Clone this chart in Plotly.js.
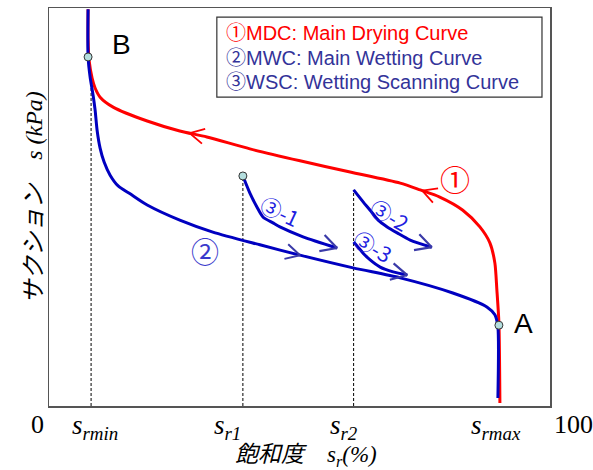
<!DOCTYPE html>
<html><head><meta charset="utf-8">
<script src="https://cdn.plot.ly/plotly-3.0.1.min.js"></script>
<style>body{margin:0;background:#fff}</style>
</head><body><div id="chart" style="width:593px;height:470px"></div>
<script>
// ---- data (x: degree of saturation %, y: relative suction 0-100) ----
const mdcX = [90.0, 89.8, 89.4, 89.0, 88.0, 86.0, 82.6, 78.0, 74.1, 70.1, 60.1, 50.1, 40.1, 31.5, 26.1, 19.6, 12.8, 10.2, 9.2, 8.6, 8.0, 7.8, 7.8];
const mdcY = [0.75, 20.9, 29.1, 35.9, 41.0, 45.0, 49.2, 52.5, 54.3, 56.0, 58.8, 61.6, 64.6, 67.6, 69.1, 71.6, 75.1, 77.6, 79.9, 82.4, 86.9, 92.0, 99.7];

const mwcX = [7.8, 7.8, 8.2, 8.8, 9.2, 9.6, 10.2, 11.0, 12.2, 13.8, 16.2, 19.6, 26.1, 32.7, 42.1, 50.1, 60.7, 70.1, 80.6, 87.4, 89.0, 89.6, 89.6];
const mwcY = [99.7, 87.7, 82.7, 78.1, 74.4, 69.3, 64.8, 61.3, 58.0, 55.3, 53.3, 50.5, 46.7, 43.7, 40.5, 37.9, 34.7, 32.2, 28.4, 24.9, 22.9, 19.8, 2.0];

const wsc1X = [38.7, 40.1, 41.5, 42.7, 44.7, 46.1, 50.7, 57.5];
const wsc1Y = [57.8, 53.5, 50.0, 47.5, 46.0, 45.0, 42.5, 39.7];
const wsc2X = [60.8, 62.7, 64.1, 65.7, 67.5, 69.5, 72.1, 76.4];
const wsc2Y = [54.3, 51.3, 49.2, 46.7, 45.0, 43.5, 41.7, 39.9];
const wsc3X = [60.8, 61.7, 62.7, 64.1, 66.1, 68.7, 71.5];
const wsc3Y = [41.2, 39.9, 38.4, 36.7, 34.9, 33.7, 32.9];

// characteristic saturations
const srNames = ['rmin', 'r1', 'r2', 'rmax'];
const srValues = [8.4, 38.7, 60.8, 89.8];
// dashed reference lines: x and upper end
const refX = [8.4, 38.7, 60.8];
const refTop = [82.0, 57.8, 54.3];
// marked points
const ptX = [7.8, 38.7, 89.8];
const ptY = [87.7, 57.8, 20.3];
const ptNames = ['B', '', 'A'];
// direction arrows along curves (x position of tip)
const mdcArrowAt = [28.1, 74.5];
const mwcArrowAt = [50.1];
const axisEnds = ['0', '100'];

// ---- layout geometry ----
const M = {l: 49, r: 43, t: 8, b: 64};
const W = 593 - M.l - M.r, H = 470 - M.t - M.b;
const kx = W / 100, ky = H / 100;

function chevron(xs, ys, atX, len, ang) {
  let i = -1;
  for (let k = 0; k < xs.length - 1; k++) {
    const a = xs[k], b = xs[k + 1];
    if (a !== b && (atX - a) * (atX - b) <= 0) { i = k; break; }
  }
  if (i < 0) i = xs.length - 2;
  const t = (atX - xs[i]) / (xs[i + 1] - xs[i]);
  const tx = xs[i] + t * (xs[i + 1] - xs[i]);
  const ty = ys[i] + t * (ys[i + 1] - ys[i]);
  let ux = (xs[i + 1] - xs[i]) * kx, uy = (ys[i + 1] - ys[i]) * ky;
  const n = Math.hypot(ux, uy); ux /= n; uy /= n;
  const p = [ang, -ang].map(a => {
    const c = Math.cos(a), s = Math.sin(a);
    const rx = ux * c - uy * s, ry = ux * s + uy * c;
    return [tx - len * rx / kx, ty - len * ry / ky];
  });
  return {x: [p[0][0], tx, p[1][0]], y: [p[0][1], ty, p[1][1]]};
}

const RED = '#ff0000', BLUE = '#0000c0', ABLUE = '#3a3aa8';
const traces = [];
// dashed lines
refX.forEach((v, i) => traces.push({x: [v, v], y: [0, refTop[i]], mode: 'lines',
  line: {color: '#000', width: 1, dash: '3px,2px'}, hoverinfo: 'skip'}));
// curves
traces.push({x: mdcX, y: mdcY, mode: 'lines', line: {color: RED, width: 3, shape: 'spline', smoothing: 0.7}});
traces.push({x: mwcX, y: mwcY, mode: 'lines', line: {color: BLUE, width: 3, shape: 'spline', smoothing: 0.7}});
[[wsc1X, wsc1Y], [wsc2X, wsc2Y], [wsc3X, wsc3Y]].forEach(([xs, ys]) => {
  traces.push({x: xs, y: ys, mode: 'lines', line: {color: BLUE, width: 3, shape: 'spline', smoothing: 0.7}});
});
// chevrons
const LEN = 16, ANG = 28 * Math.PI / 180;
mdcArrowAt.forEach(a => { const c = chevron(mdcX, mdcY, a, LEN, ANG);
  traces.push({x: c.x, y: c.y, mode: 'lines', line: {color: RED, width: 1.8}}); });
mwcArrowAt.forEach(a => { const c = chevron(mwcX, mwcY, a, LEN, ANG);
  traces.push({x: c.x, y: c.y, mode: 'lines', line: {color: ABLUE, width: 2}}); });
[[wsc1X, wsc1Y], [wsc2X, wsc2Y], [wsc3X, wsc3Y]].forEach(([xs, ys]) => {
  const c = chevron(xs, ys, xs[xs.length - 1], LEN + 2, ANG);
  traces.push({x: c.x, y: c.y, mode: 'lines', line: {color: ABLUE, width: 2.2}});
});
// points
traces.push({x: ptX, y: ptY, mode: 'markers',
  marker: {size: 8, color: '#b4dede', line: {color: '#333', width: 1}}});

const serif = 'Liberation Serif, Noto Sans CJK JP, serif';
const sans = 'Liberation Sans, Arial, sans-serif';
const circ = 'Noto Sans CJK JP, sans-serif';

const ann = [];
// tick labels s_r...
const srShift = [4, -15, -10, -3];
srNames.forEach((nm, i) => ann.push({x: srValues[i], y: 0, yref: 'paper', yanchor: 'top', xanchor: 'center',
  xshift: srShift[i], yshift: -2, showarrow: false,
  text: '<i>s</i><sub><i>' + nm + '</i></sub>', font: {family: serif, size: 27, color: '#000'}}));
ann.push({x: 0, y: 0, yref: 'paper', yanchor: 'top', xshift: -12, yshift: -2, showarrow: false,
  text: axisEnds[0], font: {family: serif, size: 26, color: '#000'}});
ann.push({x: 100, y: 0, yref: 'paper', yanchor: 'top', xshift: 23, yshift: -2, showarrow: false,
  text: axisEnds[1], font: {family: serif, size: 26, color: '#000'}});
// axis titles
ann.push({x: 0.512, xref: 'paper', y: 0, yref: 'paper', yanchor: 'top', yshift: -34, showarrow: false,
  text: '<i>飽和度　s<sub>r</sub>(%)</i>', font: {family: serif, size: 23, color: '#000'}});
ann.push({x: 0, xref: 'paper', xshift: -30, y: 0.523, yref: 'paper', textangle: -90, showarrow: false,
  text: '<i>サクション　s (kPa)</i>', font: {family: serif, size: 24, color: '#000'}});
// point names
ann.push({x: ptX[0], y: ptY[0], xshift: 33, yshift: 12, showarrow: false, text: ptNames[0],
  font: {family: sans, size: 28, color: '#000'}});
ann.push({x: ptX[2], y: ptY[2], xshift: 25, yshift: 2, showarrow: false, text: ptNames[2],
  font: {family: sans, size: 28, color: '#000'}});
// curve numbers
ann.push({x: 81.0, y: 57.4, showarrow: false, text: '①', font: {family: circ, size: 30, color: RED}});
ann.push({x: 31.1, y: 38.9, showarrow: false, text: '②', font: {family: circ, size: 28, color: '#3a3acc'}});
ann.push({x: 46.1, y: 48.9, showarrow: false, text: '③-1', textangle: 25, font: {family: circ, size: 21, color: '#2020e0'}});
ann.push({x: 68.1, y: 48.1, showarrow: false, text: '③-2', textangle: 30, font: {family: circ, size: 21, color: '#2020e0'}});
ann.push({x: 64.6, y: 40.2, showarrow: false, text: '③-3', textangle: 30, font: {family: circ, size: 21, color: '#2020e0'}});
// legend text
const legTexts = ['①MDC: Main Drying Curve', '②MWC: Main Wetting Curve', '③WSC: Wetting Scanning Curve'];
const legColors = [RED, '#333399', '#333399'];
const legY = [0.937, 0.875, 0.813];
legTexts.forEach((t, i) => ann.push({x: 0.349, xref: 'paper', y: legY[i], yref: 'paper', xanchor: 'left',
  yanchor: 'middle', showarrow: false, text: t, font: {family: 'Liberation Sans, Noto Sans CJK JP, sans-serif', size: 20, color: legColors[i]}}));

const layout = {
  width: 593, height: 470, margin: M, showlegend: false,
  paper_bgcolor: '#fff', plot_bgcolor: '#fff',
  xaxis: {range: [0, 100], showgrid: false, zeroline: false, showticklabels: false, ticks: '',
    showline: true, mirror: true, linecolor: '#555', linewidth: 1.5},
  yaxis: {range: [0, 100], showgrid: false, zeroline: false, showticklabels: false, ticks: '',
    showline: true, mirror: true, linecolor: '#555', linewidth: 1.5},
  shapes: [{type: 'rect', xref: 'paper', yref: 'paper', x0: 0.335, x1: 0.984, y0: 0.776, y1: 0.977,
    line: {color: '#333', width: 1.2}, fillcolor: 'rgba(0,0,0,0)'}],
  annotations: ann
};
Plotly.newPlot('chart', traces, layout, {staticPlot: true});
</script>
</body></html>
